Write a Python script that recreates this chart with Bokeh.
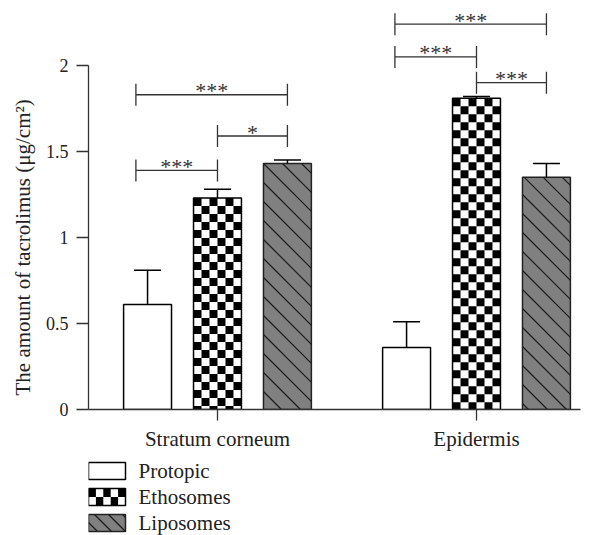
import math
import numpy as np
from bokeh.plotting import figure
from bokeh.layouts import column
from bokeh.models import (ColumnDataSource, Range1d, FixedTicker, Whisker, TeeHead, Title)
from bokeh.core.properties import value
from bokeh.embed import file_html
from bokeh.resources import INLINE

# ---------------- data ----------------
groups = ["Stratum corneum", "Epidermis"]
series = ["Protopic", "Ethosomes", "Liposomes"]
protopic = [0.61, 0.36]
ethosomes = [1.23, 1.81]
liposomes = [1.43, 1.35]
protopic_err = [0.20, 0.15]
ethosomes_err = [0.05, 0.01]
liposomes_err = [0.02, 0.08]
y_ticks = [0, 0.5, 1, 1.5, 2]
y_tick_labels = ["0", "0.5", "1", "1.5", "2"]

# significance brackets: group, from-bar, to-bar, level, label
sig_group = [0, 0, 0, 1, 1, 1]
sig_from = [0, 1, 0, 0, 1, 0]
sig_to = [1, 2, 2, 1, 2, 2]
sig_level = [1.39, 1.59, 1.83, 2.05, 1.90, 2.24]
sig_label = ["***", "*", "***", "***", "***", "***"]

FONT = "Liberation Serif"
AX = "#333333"
TXT = "#222222"
GRAY = "#808080"
HATCH = "#1a1a1a"

# ---------------- layout constants ----------------
group_pos = [1.0, 2.0]
offset = 0.27
bar_w = 0.185
frame_h = 401
frame_w = 492
left_border, right_border = 88, 16
x_start, x_end = 0.502, 2.4015
sy = 172.0                      # px per y unit
sx = frame_w / (x_end - x_start)  # px per x unit
y_end = frame_h / sy


def diag_lines(X0, X1, Y0, Y1, s):
    """45-degree '\\' lines (y up coordinates) clipped to a rectangle, pixel units."""
    xs0, ys0, xs1, ys1 = [], [], [], []
    c = math.floor((X0 + Y0) / s) * s
    while c <= X1 + Y1:
        xa = max(X0, c - Y1)
        xb = min(X1, c - Y0)
        if xb > xa + 0.5:
            xs0.append(xa); ys0.append(c - xa); xs1.append(xb); ys1.append(c - xb)
        c += s
    return xs0, ys0, xs1, ys1


def checker_cells(x0, x1, y0, y1, ncols, cell_h):
    """black cells of a checkerboard from the top edge (y up coords)."""
    L, R, T, B = [], [], [], []
    cw = (x1 - x0) / ncols
    nrows = int(math.ceil((y1 - y0) / cell_h - 1e-9))
    for j in range(nrows):
        top = y1 - j * cell_h
        bot = max(y0, y1 - (j + 1) * cell_h)
        for i in range(ncols):
            if (i + j) % 2 == 0:
                L.append(x0 + i * cw); R.append(x0 + (i + 1) * cw); T.append(top); B.append(bot)
    return L, R, T, B


p = figure(frame_width=frame_w, frame_height=frame_h,
           x_range=Range1d(x_start, x_end), y_range=Range1d(0, y_end),
           output_backend="svg", toolbar_location=None, title=None,
           min_border_left=left_border, min_border_right=right_border, min_border_top=8,
           min_border_bottom=46)
p.outline_line_color = None
p.grid.visible = False
p.background_fill_color = "white"
p.border_fill_color = "white"

values = [protopic, ethosomes, liposomes]
errs = [protopic_err, ethosomes_err, liposomes_err]
fills = ["white", "white", GRAY]
borders = ["black", "black", "#222222"]

for k, name in enumerate(series):
    xs = [g + (k - 1) * offset for g in group_pos]
    src = ColumnDataSource(dict(x=xs, top=values[k],
                                upper=[v + e for v, e in zip(values[k], errs[k])]))
    p.vbar(x="x", top="top", bottom=0, width=bar_w, source=src,
           fill_color=fills[k], line_color=None)
    if name == "Ethosomes":
        L, R, T, B = [], [], [], []
        for xc, t in zip(xs, values[k]):
            l, r, tt, b = checker_cells(xc - bar_w / 2, xc + bar_w / 2, 0, t, 6, 8 / sy)
            L += l; R += r; T += tt; B += b
        p.quad(left=L, right=R, top=T, bottom=B, fill_color="black", line_color=None)
    if name == "Liposomes":
        a0, b0, a1, b1 = [], [], [], []
        for xc, t in zip(xs, values[k]):
            X0, Y0, X1, Y1 = diag_lines((xc - bar_w / 2) * sx, (xc + bar_w / 2) * sx, 0, t * sy, 19)
            a0 += [v / sx for v in X0]; b0 += [v / sy for v in Y0]
            a1 += [v / sx for v in X1]; b1 += [v / sy for v in Y1]
        p.segment(x0=a0, y0=b0, x1=a1, y1=b1, line_color=HATCH, line_width=1.2)
    p.vbar(x="x", top="top", bottom=0, width=bar_w, source=src,
           fill_alpha=0, line_color=borders[k], line_width=1.5)
    w = Whisker(source=src, base="x", lower="top", upper="upper",
                dimension="height", lower_head=None,
                upper_head=TeeHead(size=27, line_color="black", line_width=1.5),
                line_color="black", line_width=1.5, level="overlay")
    p.add_layout(w)

# significance brackets
tick_half = 11 / sy
x0 = [group_pos[g] + (i - 1) * offset - (0.045 if i == 0 else 0) for g, i in zip(sig_group, sig_from)]
x1 = [group_pos[g] + (j - 1) * offset for g, j in zip(sig_group, sig_to)]
p.segment(x0=x0, x1=x1, y0=sig_level, y1=sig_level, line_color=AX, line_width=1.3)
lv = np.array(sig_level)
p.segment(x0=x0, x1=x0, y0=lv - tick_half, y1=lv + tick_half, line_color=AX, line_width=1.3)
p.segment(x0=x1, x1=x1, y0=lv - tick_half, y1=lv + tick_half, line_color=AX, line_width=1.3)
p.text(x=[(a + b) / 2 for a, b in zip(x0, x1)], y=sig_level, text=sig_label,
       text_align="center", text_baseline="alphabetic", y_offset=-4,
       text_font=value(FONT), text_font_size="22px", text_color="#333333")

# axes
yax = p.yaxis[0]
yax.ticker = FixedTicker(ticks=y_ticks)
yax.major_label_overrides = {t: l for t, l in zip(y_ticks, y_tick_labels)}
yax.bounds = (0, 2)
yax.minor_tick_line_color = None
yax.major_tick_out = 12
yax.major_tick_in = 0
yax.major_label_standoff = 8
yax.major_label_text_font = FONT
yax.major_label_text_font_size = "18px"
yax.major_label_text_color = TXT

ylabel = Title(text="The amount of tacrolimus (\u03bcg/cm\u00b2)", align="left",
               offset=14, text_font=FONT, text_font_size="21px",
               text_font_style="normal", text_color=TXT, standoff=16)
p.add_layout(ylabel, "left")

xax = p.xaxis[0]
xax.ticker = FixedTicker(ticks=group_pos)
xax.major_label_overrides = {g: l for g, l in zip(group_pos, groups)}
xax.minor_tick_line_color = None
xax.major_tick_out = 11
xax.major_tick_in = 0
xax.major_label_standoff = 6
xax.major_label_text_font = FONT
xax.major_label_text_font_size = "21px"
xax.major_label_text_color = TXT

for ax in (yax, xax):
    ax.axis_line_color = AX
    ax.axis_line_width = 1.3
    ax.major_tick_line_color = AX
    ax.major_tick_line_width = 1.3

# ---------------- legend (separate strip, pixel coordinates, y downwards) ----------------
leg_h = 80
leg_top = 455
leg = figure(frame_width=frame_w, frame_height=leg_h,
             x_range=Range1d(left_border, left_border + frame_w),
             y_range=Range1d(leg_top + leg_h, leg_top),
             x_axis_type=None, y_axis_type=None, output_backend="svg",
             toolbar_location=None, title=None,
             min_border_left=left_border, min_border_right=right_border,
             min_border_top=0, min_border_bottom=0)
leg.outline_line_color = None
leg.grid.visible = False
leg.border_fill_color = "white"

sw_left, sw_w, sw_h = 88, 37, 17
row_top0, row_step = 462, 26
row_tops = [row_top0 + n * row_step for n in range(len(series))]
leg.quad(left=[sw_left] * 3, right=[sw_left + sw_w] * 3,
         top=row_tops, bottom=[t + sw_h for t in row_tops],
         fill_color=fills, line_color=None)
# checker swatch
l, r, tt, b = checker_cells(sw_left, sw_left + sw_w, -(row_tops[1] + sw_h), -row_tops[1], 5, sw_h / 2)
leg.quad(left=l, right=r, top=[-v for v in tt], bottom=[-v for v in b],
         fill_color="black", line_color=None)
# diagonal swatch
X0, Y0, X1, Y1 = diag_lines(sw_left, sw_left + sw_w, -(row_tops[2] + sw_h), -row_tops[2], 14)
leg.segment(x0=X0, y0=[-v for v in Y0], x1=X1, y1=[-v for v in Y1], line_color=HATCH, line_width=1.2)
leg.quad(left=[sw_left] * 3, right=[sw_left + sw_w] * 3,
         top=row_tops, bottom=[t + sw_h for t in row_tops],
         fill_alpha=0, line_color=borders, line_width=1.5)
leg.text(x=[sw_left + sw_w + 13] * 3, y=[t + sw_h / 2 for t in row_tops], text=series,
         text_align="left", text_baseline="middle",
         text_font=value(FONT), text_font_size="21px", text_color=TXT)

layout = column(p, leg, spacing=0)
open("out.html", "w").write(file_html(layout, INLINE))
